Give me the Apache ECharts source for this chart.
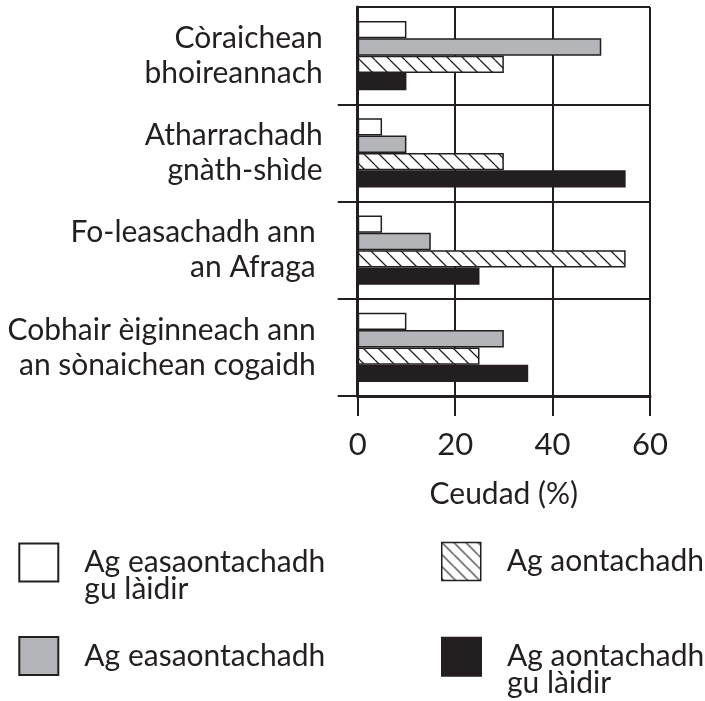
<!DOCTYPE html>
<html>
<head>
<meta charset="utf-8">
<script src="https://cdn.jsdelivr.net/npm/echarts@6/dist/echarts.min.js"></script>
<style>
html,body{margin:0;padding:0;background:#fff;}
#chart{width:705px;height:701px;}
</style>
</head>
<body>
<div id="chart"></div>
<script>
// ---- data ----
const categories = ['Còraichean\nbhoireannach', 'Atharrachadh\ngnàth-shìde', 'Fo-leasachadh ann\nan Afraga', 'Cobhair èiginneach ann\nan sònaichean cogaidh'];
const seriesNames = ['Ag easaontachadh gu làidir', 'Ag easaontachadh', 'Ag aontachadh', 'Ag aontachadh gu làidir'];
const stronglyDisagree = [10, 5, 5, 10];
const disagree = [50, 10, 15, 30];
const agree = [30, 30, 55, 25];
const stronglyAgree = [10, 55, 25, 35];
const xTickMin = 0, xTickMax = 60, xTickStep = 20;
const xAxisTitle = 'Ceudad (%)';

const INK = '#231f20';
const GREY = '#b4b5b8';
const FONT = 'Lato';

function hatch(size, lw) {
  const c = document.createElement('canvas');
  c.width = size; c.height = size;
  const g = c.getContext('2d');
  g.fillStyle = '#fff';
  g.fillRect(0, 0, size, size);
  g.strokeStyle = INK;
  g.lineWidth = lw;
  g.beginPath();
  for (const o of [-size, 0, size]) {
    g.moveTo(o, 0);
    g.lineTo(o + size, size);
  }
  g.stroke();
  return c;
}
const barHatch = { image: hatch(15, 1.3), repeat: 'repeat' };
const legendHatch = { image: hatch(12, 1.2), repeat: 'repeat' };

const chart = echarts.init(document.getElementById('chart'), null, { renderer: 'canvas' });

const fills = [ '#ffffff', GREY, barHatch, INK ];
const values = [stronglyDisagree, disagree, agree, stronglyAgree];

const series = seriesNames.map((n, i) => ({
  name: n,
  type: 'bar',
  data: values[i],
  barGap: '0%',
  barCategoryGap: '29%',
  itemStyle: { color: fills[i], borderColor: INK, borderWidth: 1.5 },
  emphasis: { disabled: true },
  animation: false
}));

function legendOpt(idx, left, top, twoLine, itemStyle) {
  return {
    show: true,
    left: left, top: top,
    padding: 0,
    orient: 'vertical',
    itemWidth: 39, itemHeight: 38,
    icon: 'rect',
    selectedMode: false,
    data: [ itemStyle ? { name: seriesNames[idx], itemStyle: itemStyle } : seriesNames[idx] ],
    formatter: name => twoLine ? '\n' + name.replace(' gu ', '\ngu ') : name,
    textStyle: {
      fontFamily: FONT, fontSize: 30, color: INK, lineHeight: 27,
      padding: [0, 0, 0, 21]
    }
  };
}

chart.setOption({
  backgroundColor: '#fff',
  animation: false,
  textStyle: { fontFamily: FONT, color: INK },
  grid: { left: 357.7, right: 55, top: 7, bottom: 305 },
  xAxis: {
    type: 'value',
    min: xTickMin, max: xTickMax, interval: xTickStep,
    axisLine: { show: true, lineStyle: { color: INK, width: 3 } },
    axisTick: { show: true, length: 20, lineStyle: { color: INK, width: 2 } },
    splitLine: { show: true, lineStyle: { color: INK, width: 2 } },
    axisLabel: { fontFamily: FONT, fontSize: 31, color: INK, margin: 33 },
    name: xAxisTitle,
    nameLocation: 'middle',
    nameGap: 83,
    nameTextStyle: { fontFamily: FONT, fontSize: 30, color: INK }
  },
  yAxis: {
    type: 'category',
    inverse: true,
    data: categories,
    axisLine: { show: true, onZero: false, lineStyle: { color: INK, width: 3 } },
    axisTick: { show: true, length: 20, interval: (i) => i !== 0, lineStyle: { color: INK, width: 2 } },
    splitLine: { show: true, interval: 0, lineStyle: { color: INK, width: 2 } },
    axisLabel: {
      interval: 0,
      margin: 35,
      fontFamily: FONT, fontSize: 30, color: INK, lineHeight: 35, align: 'right',
      formatter: (v, i) => v.split('\n').map(s => (i >= 2 ? '{b|' : '{a|') + s + '}').join('\n'),
      rich: {
        a: { fontFamily: FONT, fontSize: 30, color: INK, lineHeight: 35 },
        b: { fontFamily: FONT, fontSize: 30, color: INK, lineHeight: 35, padding: [0, 7, 0, 0] }
      }
    }
  },
  legend: [
    legendOpt(0, 18.3, 520.5, true),
    legendOpt(1, 18.3, 636, false),
    legendOpt(2, 441, 541.7, false, { color: legendHatch, borderColor: INK, borderWidth: 1.5 }),
    legendOpt(3, 441, 614.8, true)
  ],
  series: series
});
</script>
</body>
</html>
